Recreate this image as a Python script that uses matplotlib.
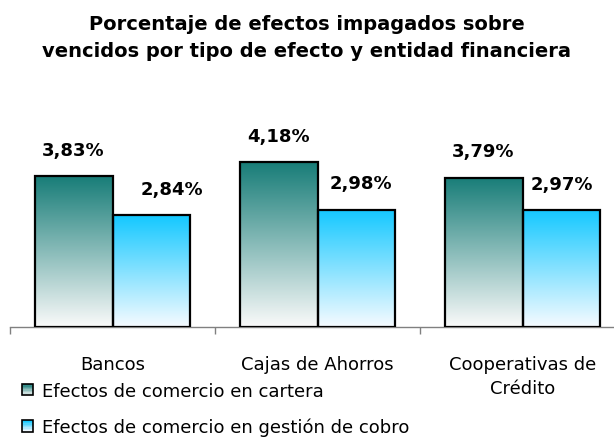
import numpy as np
import matplotlib
matplotlib.use("Agg")
import matplotlib.pyplot as plt
from matplotlib.patches import Rectangle
from matplotlib.legend_handler import HandlerBase
from matplotlib.colors import to_rgb

plt.rcParams['font.family'] = ['DejaVu Sans']

# ---- data ----
categories = ["Bancos", "Cajas de Ahorros", "Cooperativas de\nCrédito"]
series_names = ["Efectos de comercio en cartera", "Efectos de comercio en gestión de cobro"]
cartera = [3.83, 4.18, 3.79]
gestion = [2.84, 2.98, 2.97]
title = "Porcentaje de efectos impagados sobre\nvencidos por tipo de efecto y entidad financiera"

# ---- style ----
top_colors = ["#187d78", "#14c8ff"]
bottom_colors = ["#fafafa", "#f6fbff"]
W, H = 614, 439
fig = plt.figure(figsize=(W / 100, H / 100), dpi=100)
ax = fig.add_axes([10 / W, 111 / H, 615 / W, 197 / H])
ax.set_xlim(-0.5, 2.5)
ax.set_ylim(0, 5)

bw = 0.38
x = np.arange(len(categories))


def gradient(c_top, c_bot, n=256):
    t = np.linspace(0, 1, n)[:, None]
    a = np.array(to_rgb(c_top))
    b = np.array(to_rgb(c_bot))
    return (a * (1 - t) + b * t)[:, None, :].repeat(2, axis=1)


label_dx = [[0, 0, 0], [20, 4, 0]]
for si, vals in enumerate([cartera, gestion]):
    xs = x - bw / 2 + si * bw
    bars = ax.bar(xs, vals, width=bw, facecolor="none", edgecolor="black",
                  linewidth=1.6, zorder=3)
    img = gradient(top_colors[si], bottom_colors[si])
    for bi, (b, v) in enumerate(zip(bars, vals)):
        x0, y0 = b.get_x(), b.get_y()
        im = ax.imshow(img, extent=[x0, x0 + b.get_width(), y0, y0 + b.get_height()],
                       aspect="auto", origin="upper", zorder=2, interpolation="bilinear")
        im.set_clip_path(b)
        ax.annotate(f"{v:.2f}%".replace(".", ","), (b.get_x() + b.get_width() / 2, v),
                    xytext=(label_dx[si][bi] * 0.72, 19), textcoords="offset points",
                    ha="center", va="center", fontsize=13, fontweight="bold", zorder=4)

ax.set_xlim(-0.5, 2.5)
ax.set_ylim(0, 5)
for s in ["top", "right", "left"]:
    ax.spines[s].set_visible(False)
ax.spines["bottom"].set_color("#808080")
ax.spines["bottom"].set_linewidth(1.0)
ax.set_yticks([])
ax.set_xticks(np.arange(-0.5, 3.0, 1.0))
ax.set_xticklabels([])
ax.tick_params(axis="x", which="major", length=5, color="#808080", width=1)
ax.set_xticks(x, minor=True)
ax.set_xticklabels(categories, minor=True, fontsize=13, linespacing=1.42)
ax.tick_params(axis="x", which="minor", length=0, pad=20)

fig.text(0.5, 1 - 38 / H, title, ha="center", va="center", fontsize=14,
         fontweight="bold", linespacing=1.53)


class GradHandler(HandlerBase):
    def __init__(self, ctop, cbot):
        super().__init__()
        self.ctop, self.cbot = ctop, cbot

    def create_artists(self, legend, orig_handle, xdescent, ydescent, width, height,
                       fontsize, trans):
        n = 8
        a = np.array(to_rgb(self.ctop))
        b = np.array(to_rgb(self.cbot))
        arts = []
        s = min(width, height) * 1.0
        x0 = -xdescent + (width - s) / 2
        y0 = -ydescent + (height - s) / 2
        for i in range(n):
            t = i / (n - 1)
            c = a * (1 - t) + b * t
            arts.append(Rectangle((x0, y0 + s * (1 - (i + 1) / n)), s, s / n,
                                  facecolor=c, edgecolor="none", transform=trans))
        arts.append(Rectangle((x0, y0), s, s, facecolor="none", edgecolor="black",
                              linewidth=1.2, transform=trans))
        return arts


h1 = Rectangle((0, 0), 1, 1)
h2 = Rectangle((0, 0), 1, 1, facecolor="blue")
leg = fig.legend([h1, h2], series_names, loc="center left",
                 bbox_to_anchor=(22 / W, 1 - 410 / H), frameon=False, fontsize=13,
                 handlelength=0.62, handleheight=0.62, handletextpad=0.5,
                 labelspacing=1.0, borderpad=0, borderaxespad=0,
                 handler_map={h1: GradHandler(top_colors[0], "#e8eeee"),
                              h2: GradHandler(top_colors[1], "#eef8ff")})

fig.savefig("out.png", dpi=100)
